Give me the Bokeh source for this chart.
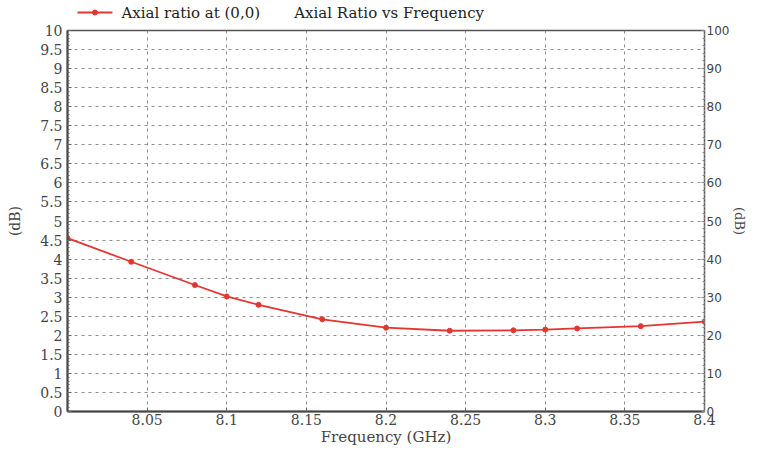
from bokeh.plotting import figure
from bokeh.layouts import column
from bokeh.models import Range1d, LinearAxis, FixedTicker
from bokeh.core.properties import value
from bokeh.embed import file_html
from bokeh.resources import INLINE

# ---- data ----
freq_ghz = [8.00, 8.04, 8.08, 8.10, 8.12, 8.16, 8.20, 8.24, 8.28, 8.30, 8.32, 8.36, 8.40]
axial_ratio_db = [4.55, 3.93, 3.32, 3.02, 2.80, 2.42, 2.20, 2.12, 2.13, 2.15, 2.18, 2.24, 2.36]

x_ticks = [8.05, 8.1, 8.15, 8.2, 8.25, 8.3, 8.35, 8.4]
x_tick_labels = ["8.05", "8.1", "8.15", "8.2", "8.25", "8.3", "8.35", "8.4"]
y_ticks = [i * 0.5 for i in range(21)]
y_tick_labels = ["0", "0.5", "1", "1.5", "2", "2.5", "3", "3.5", "4", "4.5", "5",
                 "5.5", "6", "6.5", "7", "7.5", "8", "8.5", "9", "9.5", "10"]
y2_ticks = [0, 10, 20, 30, 40, 50, 60, 70, 80, 90, 100]

series_label = "Axial ratio at (0,0)"
title_text = "Axial Ratio vs Frequency"
x_label = "Frequency (GHz)"
y_label = "(dB)"

SERIF = "DejaVu Serif"
SANS = "DejaVu Sans"
RED = "#e53530"

W = 750
HEADER_H = 22
FRAME_L = 67          # page x of the plot frame's left edge
FRAME_R = 705         # page x of the plot frame's right edge

# ---- header strip (legend sample + chart title) ----
# The column layout aligns this strip's frame with the chart frame, so its
# x range is expressed in page pixels across that frame.
hdr = figure(width=W, height=HEADER_H, output_backend="svg", toolbar_location=None,
             x_axis_location=None, y_axis_location=None,
             x_range=Range1d(FRAME_L, FRAME_R), y_range=Range1d(HEADER_H, 0),
             min_border_left=0, min_border_right=0, min_border_top=0, min_border_bottom=0,
             outline_line_color=None)
hdr.grid.visible = False
hdr.background_fill_color = "white"
hdr.border_fill_color = "white"
hdr.line(x=[77, 112], y=[12, 12], line_color=RED, line_width=1.8)
hdr.scatter(x=[94.5], y=[12], size=5, fill_color=RED, line_color=RED)
hdr.text(x=[121], y=[12], text=[series_label], text_font=value(SERIF),
         text_font_size=value("15px"), text_baseline="middle", text_align="left",
         text_color="#222222")
hdr.text(x=[294], y=[12], text=[title_text], text_font=value(SERIF),
         text_font_size=value("15px"), text_baseline="middle", text_align="left",
         text_color="#222222")

# ---- main chart ----
p = figure(width=W, height=448 - HEADER_H, output_backend="svg", toolbar_location=None,
           x_range=Range1d(8.0, 8.4), y_range=Range1d(0, 10),
           min_border_left=FRAME_L, min_border_right=43, min_border_top=8, min_border_bottom=33)
p.background_fill_color = "white"
p.border_fill_color = "white"
p.outline_line_color = "#555555"
p.outline_line_width = 1.5

xa = p.xaxis[0]
xa.ticker = FixedTicker(ticks=x_ticks)
xa.major_label_overrides = {t: l for t, l in zip(x_ticks, x_tick_labels)}
xa.axis_label = x_label
xa.axis_label_text_font = SERIF
xa.axis_label_text_font_style = "normal"
xa.axis_label_text_font_size = "15px"
xa.axis_label_standoff = 0
xa.major_label_text_font = SERIF
xa.major_label_text_font_size = "14px"
xa.major_label_standoff = 2
xa.axis_line_color = "#444444"
xa.axis_line_width = 2
xa.major_tick_in = 4
xa.major_tick_out = 0
xa.minor_tick_line_color = None
xa.major_tick_line_color = "#666666"

ya = p.yaxis[0]
ya.ticker = FixedTicker(ticks=y_ticks, minor_ticks=[i * 0.1 for i in range(101)])
ya.major_label_overrides = {t: l for t, l in zip(y_ticks, y_tick_labels)}
ya.axis_label = y_label
ya.axis_label_text_font = SERIF
ya.axis_label_text_font_style = "normal"
ya.axis_label_text_font_size = "14px"
ya.axis_label_standoff = 14
ya.major_label_text_font = SERIF
ya.major_label_text_font_size = "14px"
ya.major_label_standoff = 5
ya.axis_line_color = "#444444"
ya.axis_line_width = 2
ya.major_tick_in = 4
ya.major_tick_out = 0
ya.minor_tick_in = 2
ya.minor_tick_out = 0
ya.minor_tick_line_color = "#666666"
ya.major_tick_line_color = "#666666"

p.extra_y_ranges = {"right": Range1d(0, 100)}
ra = LinearAxis(y_range_name="right", ticker=FixedTicker(ticks=y2_ticks,
                minor_ticks=list(range(0, 101, 2))))
ra.axis_label = y_label
ra.axis_label_text_font = SERIF
ra.axis_label_text_font_style = "normal"
ra.axis_label_text_font_size = "13px"
ra.axis_label_standoff = 0
ra.major_label_text_font = SANS
ra.major_label_text_font_size = "12px"
ra.major_label_standoff = 2
ra.axis_line_color = "#888888"
ra.axis_line_dash = "2 2"
ra.major_tick_in = 3
ra.major_tick_out = 0
ra.minor_tick_in = 2
ra.minor_tick_out = 0
ra.minor_tick_line_color = "#888888"
ra.major_tick_line_color = "#888888"
p.add_layout(ra, "right")

p.xgrid.ticker = FixedTicker(ticks=x_ticks)
p.ygrid.ticker = FixedTicker(ticks=y_ticks)
for g in (p.xgrid[0], p.ygrid[0]):
    g.grid_line_color = "#6a6a6a"
    g.grid_line_dash = "3 4"
    g.grid_line_width = 1
    g.grid_line_alpha = 0.75

p.line(freq_ghz, axial_ratio_db, line_color=RED, line_width=1.8)
p.scatter(freq_ghz, axial_ratio_db, size=5, fill_color=RED, line_color=RED)

layout = column(hdr, p, spacing=0)
open("out.html", "w").write(file_html(layout, INLINE))
